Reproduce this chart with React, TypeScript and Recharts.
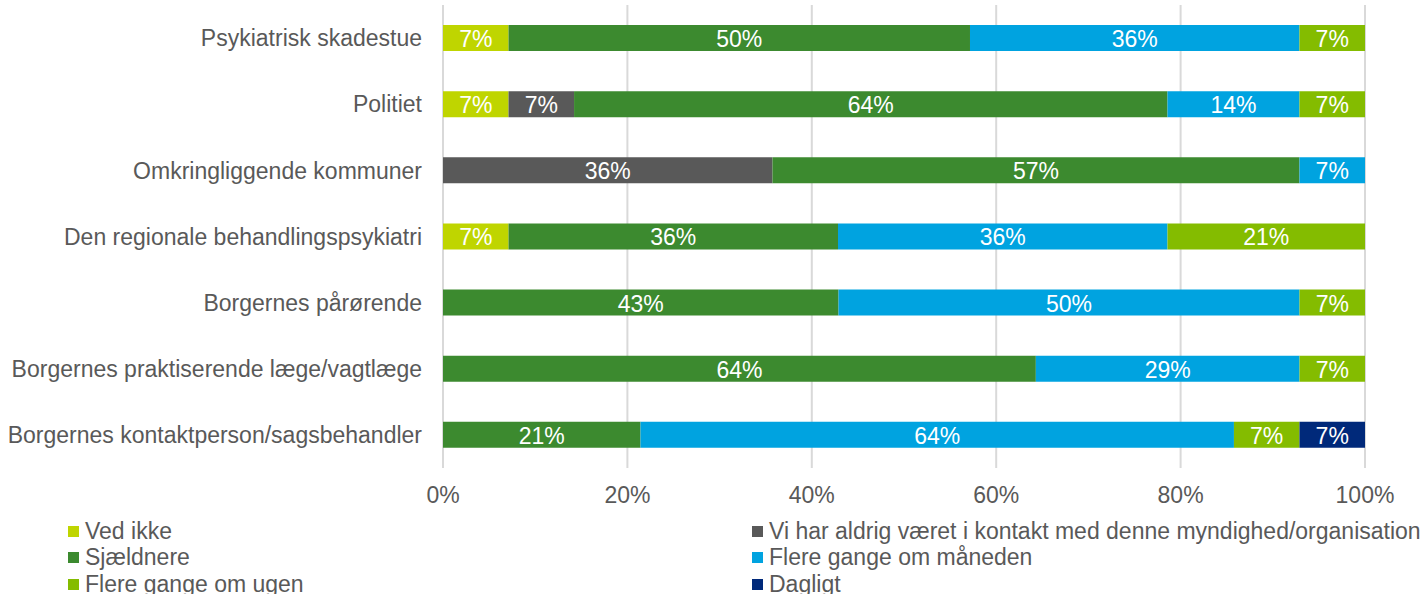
import React from "react";
import { BarChart, Bar, XAxis, YAxis, CartesianGrid, LabelList } from "recharts";

// Kategorier (top til bund)
const categories = [
  "Psykiatrisk skadestue",
  "Politiet",
  "Omkringliggende kommuner",
  "Den regionale behandlingspsykiatri",
  "Borgernes pårørende",
  "Borgernes praktiserende læge/vagtlæge",
  "Borgernes kontaktperson/sagsbehandler",
];

// Andele i procent pr. svarmulighed
const vedIkke = [7.1, 7.1, 0, 7.1, 0, 0, 0];
const aldrigKontakt = [0, 7.1, 35.7, 0, 0, 0, 0];
const sjaeldnere = [50, 64.3, 57.1, 35.7, 42.9, 64.3, 21.4];
const maaneden = [35.7, 14.3, 7.1, 35.7, 50, 28.6, 64.3];
const ugen = [7.1, 7.1, 0, 21.4, 7.1, 7.1, 7.1];
const dagligt = [0, 0, 0, 0, 0, 0, 7.1];

const xTicks = [0, 0.2, 0.4, 0.6, 0.8, 1];

const series = [
  { key: "vedIkke", name: "Ved ikke", values: vedIkke, color: "#BFD500" },
  { key: "aldrig", name: "Vi har aldrig været i kontakt med denne myndighed/organisation", values: aldrigKontakt, color: "#595959" },
  { key: "sjaeldnere", name: "Sjældnere", values: sjaeldnere, color: "#3C8A2F" },
  { key: "maaneden", name: "Flere gange om måneden", values: maaneden, color: "#00A3E0" },
  { key: "ugen", name: "Flere gange om ugen", values: ugen, color: "#84BC00" },
  { key: "dagligt", name: "Dagligt", values: dagligt, color: "#00297A" },
];

const data = categories.map((name, i) => {
  const row: Record<string, string | number> = { name };
  series.forEach((s) => {
    row[s.key] = s.values[i];
  });
  return row;
});

const FONT = "'Liberation Sans', Arial, sans-serif";
const FS = 23;

// label midt i segmentet, værdien kommer som [start, slut] ved expand
const renderLabel = (props: any) => {
  const { x, y, width, height, value } = props;
  let pct = 0;
  if (Array.isArray(value)) pct = (Number(value[1]) - Number(value[0])) * 100;
  else pct = Number(value);
  if (!pct || !width || Number(width) < 1) return null;
  return (
    <text
      x={Number(x) + Number(width) / 2}
      y={Number(y) + Number(height) / 2 + 1}
      fill="#ffffff"
      fontSize={FS}
      fontFamily={FONT}
      textAnchor="middle"
      dominantBaseline="central"
    >
      {`${Math.round(pct)}%`}
    </text>
  );
};

const App: React.FC = () => {
  return (
    <div style={{ position: "absolute", left: 0, top: 0, width: 1421, height: 594, background: "#fff", fontFamily: FONT, overflow: "hidden" }}>
      <BarChart
        width={1421}
        height={520}
        data={data}
        layout="vertical"
        stackOffset="expand"
        margin={{ top: 5, right: 56, bottom: 0, left: 0 }}
        barSize={26}
      >
        <CartesianGrid horizontal={false} stroke="#d9d9d9" strokeWidth={2} />
        <XAxis
          type="number"
          domain={[0, 1]}
          ticks={xTicks}
          tickFormatter={(v: number) => `${Math.round(v * 100)}%`}
          axisLine={false}
          tickLine={false}
          tickMargin={13}
          height={52}
          tick={{ fill: "#595959", fontSize: FS, fontFamily: FONT }}
        />
        <YAxis
          type="category"
          dataKey="name"
          width={443}
          axisLine={false}
          tickLine={false}
          tickSize={0}
          tickMargin={21}
          tick={{ fill: "#595959", fontSize: FS, fontFamily: FONT }}
        />
        {series.map((s) => (
          <Bar key={s.key} dataKey={s.key} name={s.name} stackId="a" fill={s.color} isAnimationActive={false}>
            <LabelList dataKey={s.key} content={renderLabel} />
          </Bar>
        ))}
      </BarChart>
      {series.map((s, i) => {
        const col = i % 2;
        const row = Math.floor(i / 2);
        return (
          <div
            key={s.key}
            style={{
              position: "absolute",
              left: col === 0 ? 68 : 752,
              top: 518 + row * 26.5,
              height: 26,
              display: "flex",
              alignItems: "center",
              whiteSpace: "nowrap",
              fontSize: FS,
              color: "#595959",
            }}
          >
            <span style={{ display: "inline-block", width: 11, height: 11, background: s.color, marginRight: 6 }} />
            {s.name}
          </div>
        );
      })}
    </div>
  );
};

export default App;
